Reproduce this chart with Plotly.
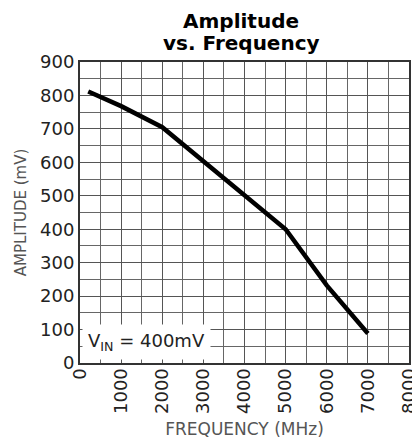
import plotly.graph_objects as go

freq_mhz = [200, 1000, 2000, 3000, 4000, 5000, 6000, 7000]
amplitude_mv = [812, 768, 705, 603, 500, 400, 232, 88]
x_ticks = [0, 1000, 2000, 3000, 4000, 5000, 6000, 7000, 8000]
y_ticks = [0, 100, 200, 300, 400, 500, 600, 700, 800, 900]

FONT = "DejaVu Sans, Verdana, sans-serif"

fig = go.Figure()
fig.add_trace(go.Scatter(x=freq_mhz, y=amplitude_mv, mode="lines",
                         line=dict(color="black", width=4.5), showlegend=False))

fig.update_layout(
    width=412, height=436,
    margin=dict(l=72, r=11, t=54, b=81),
    paper_bgcolor="white", plot_bgcolor="white",
    font=dict(family=FONT, color="#222"),
    annotations=[
        dict(x=0.49, y=1, xref="paper", yref="paper", xanchor="center", yanchor="middle",
             yshift=41, text="<b>Amplitude</b>", showarrow=False,
             font=dict(size=20, color="black")),
        dict(x=0.49, y=1, xref="paper", yref="paper", xanchor="center", yanchor="middle",
             yshift=19, text="<b>vs. Frequency</b>", showarrow=False,
             font=dict(size=20, color="black")),
        dict(x=40, y=62, xref="x", yref="y", xanchor="left", yanchor="middle",
             text="V<sub>IN</sub> = 400mV", showarrow=False,
             bgcolor="white", font=dict(size=18, color="#222"),
             borderpad=5)],
)
fig.update_xaxes(range=[0, 8000], tickvals=x_ticks, ticktext=[str(v) for v in x_ticks],
                 tickangle=-90, tickfont=dict(size=18, color="#222"),
                 ticklabelstandoff=-4, automargin=False,
                 showgrid=True, gridcolor="#555", gridwidth=1.3,
                 minor=dict(dtick=500, showgrid=True, gridcolor="#666", gridwidth=1.3),
                 showline=True, linecolor="#333", linewidth=2, mirror=True,
                 zeroline=False, ticks="",
                 title=dict(text="FREQUENCY (MHz)", font=dict(size=17, color="#555"), standoff=10))
fig.update_yaxes(range=[0, 900], tickvals=y_ticks,
                 tickfont=dict(size=18, color="#222"), automargin=False,
                 showgrid=True, gridcolor="#555", gridwidth=1.3,
                 minor=dict(dtick=50, showgrid=True, gridcolor="#666", gridwidth=1.3),
                 showline=True, linecolor="#333", linewidth=2, mirror=True,
                 zeroline=False, ticks="",
                 title=dict(text="AMPLITUDE (mV)", font=dict(size=15, color="#555"), standoff=10))

fig.write_html("out.html")
